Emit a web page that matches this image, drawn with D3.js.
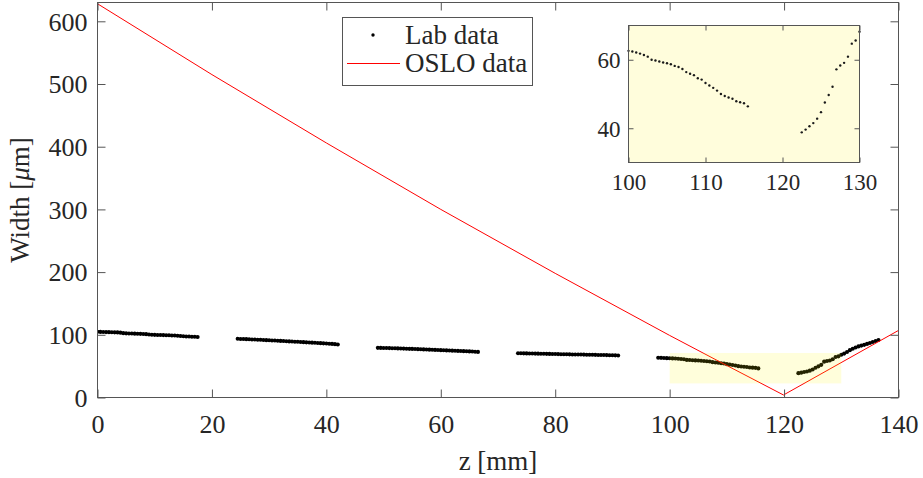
<!DOCTYPE html>
<html>
<head>
<meta charset="utf-8">
<script src="https://cdn.jsdelivr.net/npm/d3@7"></script>
<style>
  html, body { margin: 0; padding: 0; background: #fff; }
  svg text { font-family: "Liberation Serif", "Times New Roman", serif; fill: #262626; }
</style>
</head>
<body>
<svg id="chart" width="923" height="478"></svg>
<script>
// Measured beam width along the optical axis (lab), one array pair per scan segment
const labZ1 = [0,0.5,1,1.5,2,2.5,3,3.5,4,4.5,5,5.5,6,6.5,7,7.5,8,8.5,9,9.5,10,10.5,11,11.5,12,12.5,13,13.5,14,14.5,15,15.5,16,16.5,17,17.5];
const labW1 = [104.8,104.6,104.5,104.3,104.2,104.0,103.9,103.8,103.4,102.6,102.3,102.1,102.0,101.8,101.6,101.5,101.3,101.0,100.6,100.2,99.9,99.8,99.6,99.5,99.4,99.2,99.0,98.8,98.5,98.0,97.6,97.4,97.2,97.0,96.8,96.6];
const labZ2 = [24.5,25,25.5,26,26.5,27,27.5,28,28.5,29,29.5,30,30.5,31,31.5,32,32.5,33,33.5,34,34.5,35,35.5,36,36.5,37,37.5,38,38.5,39,39.5,40,40.5,41,41.5,42];
const labW2 = [93.6,93.4,93.3,93.1,92.9,92.6,92.4,92.2,92.0,91.8,91.5,91.2,91.0,90.8,90.5,90.3,90.0,89.7,89.5,89.3,89.0,88.8,88.6,88.3,88.0,87.7,87.5,87.3,87.0,86.7,86.4,86.1,85.8,85.5,85.1,84.6];
const labZ3 = [49,49.5,50,50.5,51,51.5,52,52.5,53,53.5,54,54.5,55,55.5,56,56.5,57,57.5,58,58.5,59,59.5,60,60.5,61,61.5,62,62.5,63,63.5,64,64.5,65,65.5,66,66.5];
const labW3 = [79.2,79.1,79.0,78.9,78.8,78.6,78.5,78.3,78.2,78.0,77.8,77.6,77.5,77.3,77.1,76.9,76.7,76.5,76.3,76.1,75.9,75.7,75.5,75.3,75.1,74.9,74.7,74.5,74.3,74.1,73.9,73.7,73.5,73.3,73.0,72.7];
const labZ4 = [73.5,74,74.5,75,75.5,76,76.5,77,77.5,78,78.5,79,79.5,80,80.5,81,81.5,82,82.5,83,83.5,84,84.5,85,85.5,86,86.5,87,87.5,88,88.5,89,89.5,90,90.5,91];
const labW4 = [70.6,70.5,70.4,70.3,70.2,70.1,70.0,69.9,69.8,69.7,69.6,69.5,69.4,69.3,69.2,69.1,69.0,68.9,68.8,68.7,68.6,68.6,68.5,68.4,68.3,68.2,68.1,68.0,67.9,67.8,67.7,67.6,67.5,67.4,67.2,67.0];
const labZ5 = [98,98.5,99,99.5,100,100.5,101,101.5,102,102.5,103,103.5,104,104.5,105,105.5,106,106.5,107,107.5,108,108.5,109,109.5,110,110.5,111,111.5,112,112.5,113,113.5,114,114.5,115,115.5];
const labW5 = [63.4,63.2,63.0,62.8,62.6,62.4,62.1,61.8,61.4,60.9,60.0,59.8,59.5,59.2,59.0,58.7,58.2,57.9,57.3,56.4,55.9,55.5,54.6,54.2,53.2,52.5,51.8,51.0,50.0,49.4,49.0,48.6,47.9,47.6,47.3,46.4];
const labZ6 = [122.5,123,123.5,124,124.5,125,125.5,126,126.5,127,127.5,128,128.5,129,129.5,130,130.5,131,131.5,132,132.5,133,133.5,134,134.5,135,135.5,136,136.5];
const labW6 = [38.8,39.6,40.6,41.5,42.8,44.7,47.5,49.7,52.1,57.2,58.3,59.1,60.9,64.7,65.6,68.2,70.0,72.5,75.5,77.8,79.8,81.5,82.8,84.0,85.5,87.0,88.6,90.2,91.8];

// Simulated beam width (OSLO)
const osloZ = [0,20,40,60,80,100,110,119.9,140];
const osloW = [628,515,406,300,198,99,51,4,107];

// Axis limits and ticks
const zDomain = [0, 140];
const wDomain = [0, 630];
const zTicks = [0,20,40,60,80,100,120,140];
const wTicks = [0,100,200,300,400,500,600];

// Zoomed window around the focus
const zoomZ = [100, 130];
const zoomW = [30, 70];
const zoomBoxW = [22.5, 71];
const insetZTicks = [100,110,120,130];
const insetWTicks = [40,60];

const seriesNames = ["Lab data", "OSLO data"];
const xLabel = "z [mm]";

const labZ = [].concat(labZ1, labZ2, labZ3, labZ4, labZ5, labZ6);
const labW = [].concat(labW1, labW2, labW3, labW4, labW5, labW6);
const lab = labZ.map((z, i) => ({ z, w: labW[i] }));
const oslo = osloZ.map((z, i) => ({ z, w: osloW[i] }));

const svg = d3.select("#chart");
const axisColor = "#555";
const highlight = "rgb(255,250,0)";

// ---- main axes ----
const x = d3.scaleLinear(zDomain, [97.5, 898.5]);
const y = d3.scaleLinear(wDomain, [397.5, 2.5]);

svg.append("defs").append("clipPath").attr("id", "plotclip")
  .append("rect")
  .attr("x", x(zDomain[0])).attr("y", y(wDomain[1]))
  .attr("width", x(zDomain[1]) - x(zDomain[0]))
  .attr("height", y(wDomain[0]) - y(wDomain[1]));

const plot = svg.append("g").attr("clip-path", "url(#plotclip)");

plot.append("g").selectAll("circle").data(lab).join("circle")
  .attr("cx", d => x(d.z)).attr("cy", d => y(d.w))
  .attr("r", 2.05).attr("fill", "#000");

plot.append("path").datum(oslo)
  .attr("d", d3.line().x(d => x(d.z)).y(d => y(d.w)))
  .attr("fill", "none").attr("stroke", "#ff0000").attr("stroke-width", 1);

plot.append("rect")
  .attr("x", x(zoomZ[0])).attr("y", y(zoomBoxW[1]))
  .attr("width", x(zoomZ[1]) - x(zoomZ[0]))
  .attr("height", y(zoomBoxW[0]) - y(zoomBoxW[1]))
  .attr("fill", highlight).attr("fill-opacity", 0.14);

// axes with inward ticks, mirrored on top/right
function drawAxes(g, xs, ys, xt, yt, tickLen, fontSize, xLabOff, yLabOff) {
  const [x0, x1] = xs.range();
  const [y0, y1] = ys.range();
  const ax = g.append("g");
  ax.append("rect").attr("x", x0).attr("y", y1).attr("width", x1 - x0).attr("height", y0 - y1)
    .attr("fill", "none").attr("stroke", axisColor).attr("stroke-width", 1);
  const bx = d3.axisBottom(xs).tickValues(xt).tickSizeInner(-tickLen).tickSizeOuter(0).tickPadding(0);
  const xa = ax.append("g").attr("transform", `translate(0,${y0})`).call(bx);
  xa.select(".domain").remove();
  xa.selectAll("line").attr("stroke", axisColor);
  xa.selectAll("text").attr("y", xLabOff).attr("dy", null)
    .style("font-size", fontSize + "px").attr("fill", "#262626");
  const tx = d3.axisTop(xs).tickValues(xt).tickSizeInner(-tickLen).tickSizeOuter(0).tickFormat("");
  const xt2 = ax.append("g").attr("transform", `translate(0,${y1})`).call(tx);
  xt2.select(".domain").remove();
  xt2.selectAll("line").attr("stroke", axisColor);
  const ly = d3.axisLeft(ys).tickValues(yt).tickSizeInner(-tickLen).tickSizeOuter(0).tickPadding(0);
  const ya = ax.append("g").attr("transform", `translate(${x0},0)`).call(ly);
  ya.select(".domain").remove();
  ya.selectAll("line").attr("stroke", axisColor);
  ya.selectAll("text").attr("x", -yLabOff).attr("dy", "0.34em")
    .style("font-size", fontSize + "px").attr("fill", "#262626");
  const ry = d3.axisRight(ys).tickValues(yt).tickSizeInner(-tickLen).tickSizeOuter(0).tickFormat("");
  const ya2 = ax.append("g").attr("transform", `translate(${x1},0)`).call(ry);
  ya2.select(".domain").remove();
  ya2.selectAll("line").attr("stroke", axisColor);
  ax.selectAll("g").attr("font-family", null).attr("font-size", null);
}

drawAxes(svg, x, y, zTicks, wTicks, 8, 26, 35, 10);

// axis titles
svg.append("text").attr("x", (x(zDomain[0]) + x(zDomain[1])) / 2).attr("y", 470)
  .attr("text-anchor", "middle").style("font-size", "27px").text(xLabel);

const yt = svg.append("text")
  .attr("transform", `translate(29,${(y(wDomain[0]) + y(wDomain[1])) / 2}) rotate(-90)`)
  .attr("text-anchor", "middle").style("font-size", "27px");
yt.append("tspan").text("Width [");
yt.append("tspan").style("font-style", "italic").text("\u03bc");
yt.append("tspan").text("m]");

// ---- legend ----
const leg = svg.append("g");
leg.append("rect").attr("x", 342.5).attr("y", 17.5).attr("width", 190).attr("height", 68)
  .attr("fill", "#fff").attr("stroke", axisColor).attr("stroke-width", 1);
leg.append("circle").attr("cx", 373).attr("cy", 35).attr("r", 1.7).attr("fill", "#000");
leg.append("line").attr("x1", 347).attr("x2", 400).attr("y1", 63.5).attr("y2", 63.5)
  .attr("stroke", "#ff0000").attr("stroke-width", 1);
leg.append("text").attr("x", 405).attr("y", 44).style("font-size", "27px").text(seriesNames[0]);
leg.append("text").attr("x", 405).attr("y", 72).style("font-size", "27px").text(seriesNames[1]);

// ---- inset: zoom on the focus ----
const x2 = d3.scaleLinear(zoomZ, [628.5, 859.5]);
const y2 = d3.scaleLinear(zoomW, [162.5, 25.5]);
const inset = svg.append("g");
inset.append("rect").attr("x", 628.5).attr("y", 25.5).attr("width", 231).attr("height", 137)
  .attr("fill", "#fffddc");
inset.append("defs").append("clipPath").attr("id", "insetclip")
  .append("rect").attr("x", 627).attr("y", 24).attr("width", 234).attr("height", 140);
inset.append("g").attr("clip-path", "url(#insetclip)")
  .selectAll("circle")
  .data(lab.filter(d => d.z >= zoomZ[0] && d.z <= zoomZ[1] && d.w >= zoomW[0] && d.w <= zoomW[1]))
  .join("circle")
  .attr("cx", d => x2(d.z)).attr("cy", d => y2(d.w))
  .attr("r", 1.2).attr("fill", "#1a1a1a");
drawAxes(inset, x2, y2, insetZTicks, insetWTicks, 5, 23, 27, 8);
</script>
</body>
</html>
